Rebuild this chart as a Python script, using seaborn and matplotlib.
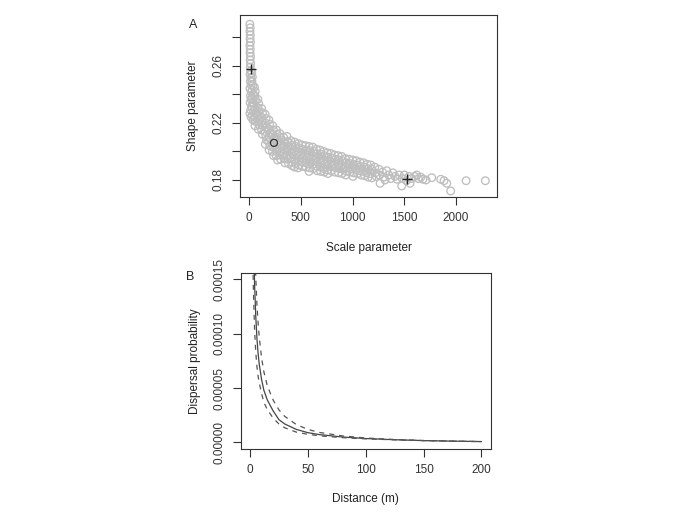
import numpy as np
import pandas as pd
import seaborn as sns
import matplotlib.pyplot as plt
from matplotlib.ticker import FixedLocator, FixedFormatter

# ---- panel A: scale vs shape parameter (column by column) ----
scale_param = [
    8, 11, 9, 12, 10, 13, 9, 12, 10, 14, 11, 15, 12, 16, 10, 18, 13, 20, 9, 22, 14, 19, 11, 24, 16, 9, 20,
    26, 32, 28, 36, 30, 40, 33, 37, 29, 42, 34, 39,
    52, 60, 55, 63, 50, 58, 66, 54, 61, 57,
    85, 93, 88, 97, 84, 92, 99, 90,
    122, 130, 119, 127, 134, 121, 129,
    156, 164, 158, 167, 153, 162, 169, 157,
    192, 199, 188, 203, 195, 190, 200, 194,
    228, 236, 225, 239, 231, 226, 237,
    264, 272, 261, 275, 266, 270, 262, 276,
    298, 306, 295, 309, 301, 297, 305,
    333, 342, 336, 345, 330, 340, 347,
    366, 378, 371, 380, 368, 375, 382,
    405, 414, 408, 417, 402, 411, 415,
    441, 449, 438, 452, 444, 447, 440,
    476, 484, 473, 487, 479, 482, 475,
    511, 519, 508, 522, 514, 517,
    546, 554, 543, 557, 549, 552,
    581, 589, 578, 592, 584, 587, 580,
    616, 624, 613, 627, 619, 622,
    651, 659, 648, 662, 654, 657,
    686, 694, 683, 697, 689, 692,
    721, 729, 718, 732, 724, 727,
    756, 764, 753, 767, 759, 762,
    791, 799, 788, 802, 794,
    826, 834, 823, 837, 829,
    861, 869, 858, 872, 864,
    896, 904, 893, 907, 899,
    931, 939, 928, 942, 934,
    966, 974, 963, 977,
    1001, 1009, 998, 1012, 1004,
    1036, 1044, 1033, 1047,
    1071, 1079, 1068, 1082,
    1106, 1114, 1103, 1117,
    1141, 1149, 1138, 1152,
    1176, 1184, 1173, 1187,
    1215, 1220, 1230, 1255, 1260, 1266, 1290, 1300, 1314, 1330,
    1350, 1370, 1390, 1410, 1430, 1450, 1475, 1480, 1500, 1520,
    1545, 1556, 1570, 1600, 1620, 1636, 1660, 1680, 1710, 1765,
    1852, 1884, 1910, 1948, 2097, 2283,
]
shape_param = [
    0.289, 0.2865, 0.284, 0.2815, 0.279, 0.2765, 0.274, 0.2715, 0.269, 0.2665, 0.264, 0.2615, 0.259, 0.2565,
    0.254, 0.2515, 0.249, 0.2465, 0.244, 0.2415, 0.239, 0.2365, 0.234, 0.2315, 0.229, 0.2265, 0.224,
    0.255, 0.252, 0.249, 0.246, 0.243, 0.240, 0.237, 0.234, 0.231, 0.228, 0.225, 0.222,
    0.245, 0.242, 0.239, 0.236, 0.233, 0.230, 0.227, 0.224, 0.221, 0.218,
    0.2365, 0.2335, 0.2305, 0.2275, 0.2245, 0.2215, 0.2185, 0.2155,
    0.230, 0.227, 0.224, 0.221, 0.218, 0.215, 0.212,
    0.226, 0.223, 0.220, 0.217, 0.214, 0.211, 0.208, 0.205,
    0.222, 0.219, 0.216, 0.213, 0.210, 0.207, 0.204, 0.201,
    0.218, 0.215, 0.212, 0.209, 0.203, 0.200, 0.197,
    0.215, 0.212, 0.209, 0.206, 0.203, 0.200, 0.197, 0.194,
    0.2125, 0.2095, 0.2065, 0.2035, 0.2005, 0.1975, 0.1945,
    0.210, 0.207, 0.204, 0.201, 0.198, 0.195, 0.192,
    0.2105, 0.2065, 0.2035, 0.2005, 0.1975, 0.1945, 0.1915,
    0.2075, 0.2045, 0.2015, 0.1985, 0.1955, 0.1925, 0.190,
    0.2065, 0.2035, 0.2005, 0.1975, 0.1945, 0.1915, 0.189,
    0.2055, 0.2025, 0.1995, 0.1965, 0.1935, 0.1905, 0.1885,
    0.2045, 0.2015, 0.1985, 0.1955, 0.1925, 0.1895,
    0.204, 0.201, 0.198, 0.195, 0.192, 0.189,
    0.2035, 0.2005, 0.1975, 0.1945, 0.1915, 0.1885, 0.186,
    0.203, 0.200, 0.197, 0.194, 0.191, 0.188,
    0.2015, 0.1985, 0.1955, 0.1925, 0.1895, 0.1865,
    0.201, 0.198, 0.195, 0.192, 0.189, 0.186,
    0.200, 0.197, 0.194, 0.191, 0.188, 0.1855,
    0.199, 0.196, 0.193, 0.190, 0.187, 0.1845,
    0.1985, 0.1955, 0.1925, 0.1895, 0.1865,
    0.1975, 0.1945, 0.1915, 0.1885, 0.1855,
    0.197, 0.194, 0.191, 0.188, 0.185,
    0.1965, 0.1935, 0.1905, 0.1875, 0.1845,
    0.195, 0.192, 0.189, 0.186, 0.1835,
    0.1945, 0.1915, 0.1885, 0.1855,
    0.194, 0.191, 0.188, 0.185, 0.1825,
    0.1935, 0.1905, 0.1875, 0.1845,
    0.1925, 0.1895, 0.1865, 0.1835,
    0.192, 0.189, 0.186, 0.183,
    0.191, 0.188, 0.185, 0.182,
    0.1905, 0.1875, 0.1845, 0.1815,
    0.189, 0.185, 0.1825, 0.1875, 0.1835, 0.1777, 0.1855, 0.182, 0.180, 0.1865,
    0.1835, 0.181, 0.185, 0.1825, 0.1805, 0.1835, 0.1758, 0.181, 0.1835, 0.1795,
    0.1825, 0.1777, 0.181, 0.1825, 0.1835, 0.181, 0.182, 0.1805, 0.180, 0.1816,
    0.1805, 0.1795, 0.1777, 0.1723, 0.1795, 0.1795,
]

# marked estimates
plus_scale = [15, 1530]
plus_shape = [0.258, 0.181]
circle_scale = [241]
circle_shape = [0.206]

# ---- panel B: dispersal kernel (values in units of 1e-5) ----
distance = [2, 3, 4, 5, 6, 7, 8, 10, 12, 15, 20, 25, 30, 40, 50, 60, 80, 100, 125, 150, 175, 200]
kernel_mid = [28, 19.5, 14.5, 11.6, 9.6, 8.2, 7.2, 5.8, 4.8, 3.9, 2.9, 2.1, 1.7, 1.2, 0.9, 0.72,
              0.5, 0.36, 0.25, 0.17, 0.12, 0.08]
kernel_hi = [36, 25, 18.8, 15.2, 12.7, 11.0, 9.7, 7.8, 6.5, 5.2, 3.9, 3.0, 2.4, 1.65, 1.2, 0.92,
             0.6, 0.41, 0.27, 0.175, 0.12, 0.08]
kernel_lo = [20, 13.8, 10.3, 8.3, 7.0, 6.1, 5.5, 4.5, 3.7, 3.0, 2.25, 1.7, 1.35, 0.95, 0.75, 0.61,
             0.44, 0.33, 0.24, 0.17, 0.12, 0.08]

sns.set_style("ticks")
plt.rcParams['font.family'] = ['Liberation Sans', 'DejaVu Sans']
plt.rcParams['axes.edgecolor'] = '#333333'
plt.rcParams['axes.linewidth'] = 0.8

fig = plt.figure(figsize=(6.85, 5.13), dpi=100)
axA = fig.add_axes([0.3504, 0.6160, 0.3752, 0.3548])
axB = fig.add_axes([0.3514, 0.1248, 0.3650, 0.3436])

# panel A
sns.scatterplot(x=scale_param, y=shape_param, ax=axA, marker='o', s=30,
                facecolor='none', edgecolor='#BEBEBE', linewidth=0.95)
sns.scatterplot(x=plus_scale, y=plus_shape, ax=axA, marker='+', s=50,
                color='#222222', linewidth=1.0)
sns.scatterplot(x=circle_scale, y=circle_shape, ax=axA, marker='o', s=26,
                facecolor='none', edgecolor='#333333', linewidth=0.9)
axA.set_xlim(-87, 2396)
axA.set_ylim(0.1681, 0.2955)
axA.set_xticks([0, 500, 1000, 1500, 2000])
axA.yaxis.set_major_locator(FixedLocator([0.18, 0.20, 0.22, 0.24, 0.26, 0.28]))
axA.yaxis.set_major_formatter(FixedFormatter(['0.18', '', '0.22', '', '0.26', '']))
axA.set_xlabel('Scale parameter', fontsize=8.5, color='#222222', labelpad=13)
axA.set_ylabel('Shape parameter', fontsize=8.5, color='#222222', labelpad=10)

# panel B
mid = [v * 1e-5 for v in kernel_mid]
hi = [v * 1e-5 for v in kernel_hi]
lo = [v * 1e-5 for v in kernel_lo]
sns.lineplot(x=distance, y=mid, ax=axB, color='#444444', linewidth=0.9)
sns.lineplot(x=distance, y=hi, ax=axB, color='#555555', linewidth=0.9, linestyle=(0, (4, 4)))
sns.lineplot(x=distance, y=lo, ax=axB, color='#555555', linewidth=0.9, linestyle=(0, (4, 4)))
axB.set_xlim(-8, 208)
axB.set_ylim(-0.000006, 0.000156)
axB.set_xticks([0, 50, 100, 150, 200])
axB.set_yticks([0.0, 0.00005, 0.0001, 0.00015])
axB.set_yticklabels(['0.00000', '0.00005', '0.00010', '0.00015'])
axB.set_xlabel('Distance (m)', fontsize=8.5, color='#222222', labelpad=12)
axB.set_ylabel('Dispersal probability', fontsize=8.5, color='#222222', labelpad=9)

for ax in (axA, axB):
    for side in ['top', 'right', 'left', 'bottom']:
        ax.spines[side].set_visible(True)
    ax.tick_params(direction='out', length=6, width=0.8, colors='#333333',
                   labelsize=8.5, pad=5)
    ax.tick_params(axis='y', labelrotation=90)
    for lab in ax.get_yticklabels():
        lab.set_va('center')

fig.text(193 / 685, 1 - 25 / 513, 'A', fontsize=9, ha='center', va='center', color='#222222')
fig.text(190 / 685, 1 - 277 / 513, 'B', fontsize=9, ha='center', va='center', color='#222222')

fig.savefig('out.png', dpi=100)
